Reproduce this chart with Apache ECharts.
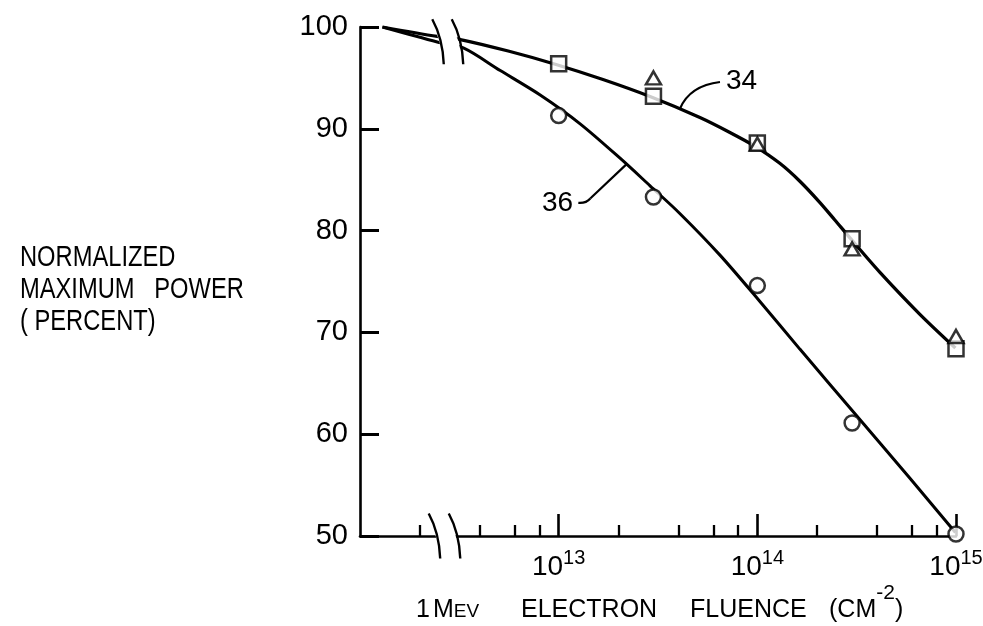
<!DOCTYPE html>
<html>
<head>
<meta charset="utf-8">
<script src="https://cdn.jsdelivr.net/npm/echarts@6/dist/echarts.min.js"></script>
<style>
html,body{margin:0;padding:0;background:#fff;}
#main{width:983px;height:626px;}
</style>
</head>
<body>
<div id="main"></div>
<script>
// ---------------- data ----------------
const yTickValues = [50, 60, 70, 80, 90, 100];
const decadeStarts = [1e12, 1e13, 1e14];
const majorFluence = [1e13, 1e14, 1e15];
const majorExponentLabels = ['13', '14', '15'];
const minorMultipliers = [2, 4, 6, 8];

// measured points
const pointFluence = [1e13, 3e13, 1e14, 3e14, 1e15];
const squares34 = [96.4, 93.2, 88.6, 79.2, 68.4];
const triangleFluence = [3e13, 1e14, 3e14, 1e15];
const triangles34 = [95.0, 88.5, 78.2, 69.6];
const circles36 = [91.3, 83.3, 74.6, 61.1, 50.2];

// fitted curves (log10 of fluence, percent)
const curve34Log = [12.113, 12.389, 12.505, 12.746, 12.987, 13.223, 13.460, 13.711, 13.862, 13.987, 14.113, 14.214, 14.314, 14.389, 14.465, 14.616, 14.817, 14.997];
const curve34Val = [100, 99.07, 98.77, 97.64, 96.32, 94.84, 93.17, 91.11, 89.64, 88.30, 86.61, 84.85, 82.78, 81.07, 79.31, 75.92, 71.80, 68.46];
const curve36Log = [12.113, 12.389, 12.520, 12.706, 12.907, 13.108, 13.309, 13.460, 13.611, 13.812, 14.013, 14.214, 14.515, 14.766, 14.997];
const curve36Val = [100, 98.53, 97.94, 95.72, 93.32, 90.49, 87.11, 84.40, 81.66, 77.59, 73.04, 68.36, 61.46, 55.72, 50.34];

// texts
const curveLabels = ['34', '36'];
const yTitleLines = ['NORMALIZED', 'MAXIMUM   POWER', '( PERCENT)'];
const xTitleWords = ['1', 'M', 'EV', 'ELECTRON', 'FLUENCE', '(CM', '-2', ')'];

// ---------------- chart ----------------
const FONT = "'Liberation Sans', Arial, sans-serif";
const L = v => Math.log10(v);
const majorTickVals = majorFluence.map(L);
const minorTickVals = [];
decadeStarts.forEach(d => minorMultipliers.forEach(m => minorTickVals.push(L(m * d))));
const pairs = (xs, ys) => xs.map((x, i) => [x, ys[i]]);

const chart = echarts.init(document.getElementById('main'), null, {renderer: 'canvas'});

const option = {
  animation: false,
  backgroundColor: '#ffffff',
  grid: {left: 360, right: 27, top: 27, bottom: 90, containLabel: false, outerBoundsMode: 'none'},
  xAxis: [
    {
      type: 'value', min: 12, max: 15, position: 'bottom', offset: 0,
      axisLine: {show: true, onZero: false, lineStyle: {color: '#000', width: 2.6}},
      axisTick: {show: true, inside: true, length: 22, customValues: majorTickVals, lineStyle: {color: '#000', width: 2.6}},
      axisLabel: {
        show: true, customValues: majorTickVals, margin: 12, color: '#000',
        formatter: function (v) {
          const idx = majorTickVals.findIndex(t => Math.abs(t - v) < 1e-6);
          return '{b|10}{s|' + (idx >= 0 ? majorExponentLabels[idx] : '') + '}';
        },
        rich: {
          b: {fontFamily: FONT, fontSize: 28, color: '#000', lineHeight: 33, verticalAlign: 'bottom'},
          s: {fontFamily: FONT, fontSize: 20, color: '#000', lineHeight: 20, verticalAlign: 'top'}
        }
      },
      splitLine: {show: false}
    },
    {
      type: 'value', min: 12, max: 15, position: 'bottom', offset: 0, gridIndex: 0,
      axisLine: {show: false},
      axisTick: {show: true, inside: true, length: 11, customValues: minorTickVals, lineStyle: {color: '#000', width: 2.3}},
      axisLabel: {show: false},
      splitLine: {show: false}
    }
  ],
  yAxis: {
    type: 'value', min: 50, max: 100, interval: 10,
    axisLine: {show: true, onZero: false, lineStyle: {color: '#000', width: 2.6}},
    axisTick: {show: true, inside: true, length: 19, lineStyle: {color: '#000', width: 3}},
    axisLabel: {color: '#000', fontFamily: FONT, fontSize: 29, margin: 12, customValues: yTickValues},
    splitLine: {show: false}
  },
  series: [
    {
      name: 'curve34', type: 'line', xAxisIndex: 0, data: pairs(curve34Log, curve34Val),
      showSymbol: false, smooth: 0.3, z: 2,
      lineStyle: {color: '#000', width: 3.3}
    },
    {
      name: 'curve36', type: 'line', xAxisIndex: 0, data: pairs(curve36Log, curve36Val),
      showSymbol: false, smooth: 0.3, z: 2,
      lineStyle: {color: '#000', width: 3}
    },
    {
      name: 'circles36', type: 'scatter', xAxisIndex: 0, symbol: 'circle', symbolSize: 15, z: 3,
      data: pairs(pointFluence.map(L), circles36),
      itemStyle: {color: '#fff', borderColor: '#000', borderWidth: 2.5}
    },
    {
      name: 'squares34', type: 'scatter', xAxisIndex: 0, symbol: 'rect', symbolSize: 15, z: 3,
      data: pairs(pointFluence.map(L), squares34),
      itemStyle: {color: '#fff', borderColor: '#000', borderWidth: 2.5}
    },
    {
      name: 'triangles34', type: 'scatter', xAxisIndex: 0, symbol: 'triangle', symbolSize: [15, 13], z: 4,
      data: pairs(triangleFluence.map(L), triangles34),
      itemStyle: {color: '#fff', borderColor: '#000', borderWidth: 2.5}
    }
  ]
};
chart.setOption(option);

// ---------- annotations ----------
const P = (x, y) => chart.convertToPixel({gridIndex: 0}, [x, y]);
const measureCtx = document.createElement('canvas').getContext('2d');
function textWidth(t, size) {
  measureCtx.font = size + 'px ' + FONT;
  return measureCtx.measureText(t).width;
}

function breakMarks(xLeftLog, xRightLog, yVal) {
  const a = P(xLeftLog, yVal), b = P(xRightLog, yVal);
  const arc = (c) => ({
    x1: c[0] - 6, y1: c[1] - 22.5,
    cpx1: c[0] + 3, cpy1: c[1] - 6,
    cpx2: c[0] + 5, cpy2: c[1] + 10,
    x2: c[0] + 5.5, y2: c[1] + 22.5
  });
  const s1 = arc(a), s2 = arc(b);
  return [
    {type: 'polygon', z: 100, silent: true,
     shape: {points: [[s1.x1 + 1, s1.y1 + 4], [s2.x1 - 1, s2.y1 + 4], [b[0] + 1, b[1]], [s2.x2 - 1, s2.y2 - 4], [s1.x2 + 1, s1.y2 - 4], [a[0] + 1, a[1]]]},
     style: {fill: '#fff'}},
    {type: 'bezierCurve', z: 101, silent: true, shape: s1, style: {stroke: '#000', lineWidth: 2.4, fill: null}},
    {type: 'bezierCurve', z: 101, silent: true, shape: s2, style: {stroke: '#000', lineWidth: 2.4, fill: null}}
  ];
}

function render() {
  const g = [];
  const origin = P(12, 50);
  const axisY = origin[1];

  // axis break and curve break
  g.push(...breakMarks(12.376, 12.477, 50));
  g.push(...breakMarks(12.394, 12.492, 98.55));

  // label 34 with leader
  const t34 = P(13.842, 94.68);
  g.push({type: 'text', z: 50, silent: true, x: t34[0], y: t34[1],
    style: {text: curveLabels[0], font: '28px ' + FONT, fill: '#000', align: 'left', verticalAlign: 'middle'}});
  const a0 = P(13.611, 92.0), a1 = P(13.661, 94.25), a2 = P(13.812, 94.6);
  g.push({type: 'bezierCurve', z: 50, silent: true,
    shape: {x1: a0[0], y1: a0[1], cpx1: a1[0], cpy1: a1[1], x2: a2[0], y2: a2[1]},
    style: {stroke: '#000', lineWidth: 2.2, fill: null}});

  // label 36 with leader
  const t36 = P(12.916, 82.66);
  g.push({type: 'text', z: 50, silent: true, x: t36[0], y: t36[1],
    style: {text: curveLabels[1], font: '28px ' + FONT, fill: '#000', align: 'left', verticalAlign: 'middle'}});
  const b0 = P(13.099, 82.73), b1 = P(13.138, 82.67), b2 = P(13.159, 83.16), b3 = P(13.346, 86.6);
  g.push({type: 'bezierCurve', z: 50, silent: true,
    shape: {x1: b0[0], y1: b0[1], cpx1: b1[0], cpy1: b1[1], x2: b2[0], y2: b2[1]},
    style: {stroke: '#000', lineWidth: 2.2, fill: null}});
  g.push({type: 'line', z: 50, silent: true,
    shape: {x1: b2[0], y1: b2[1], x2: b3[0], y2: b3[1]},
    style: {stroke: '#000', lineWidth: 2.2}});

  // y-axis title (three lines, condensed lettering)
  yTitleLines.forEach((line, i) => {
    g.push({type: 'text', z: 50, silent: true, x: 20, y: 257.5 + i * 32, scaleX: 0.79, scaleY: 1,
      style: {text: line, font: '30px ' + FONT, fill: '#000', align: 'left', verticalAlign: 'middle'}});
  });

  // x-axis title
  const baseY = axisY + 74, smallY = axisY + 76, supY = axisY + 57.5;
  const wordLeft = {0: 416, 1: 433, 3: 521, 4: 690, 5: 829};
  let cursor = 0;
  xTitleWords.forEach((w, i) => {
    let size = 25, y = baseY;
    if (i === 2) { size = 19; y = smallY; }
    if (i === 6) { size = 21; y = supY; }
    const x = (wordLeft[i] !== undefined) ? wordLeft[i] : cursor;
    g.push({type: 'text', z: 50, silent: true, x: x, y: y,
      style: {text: w, font: size + 'px ' + FONT, fill: '#000', align: 'left', verticalAlign: 'middle'}});
    cursor = x + textWidth(w, size);
  });

  chart.setOption({graphic: {elements: g}});
}
render();
</script>
</body>
</html>
